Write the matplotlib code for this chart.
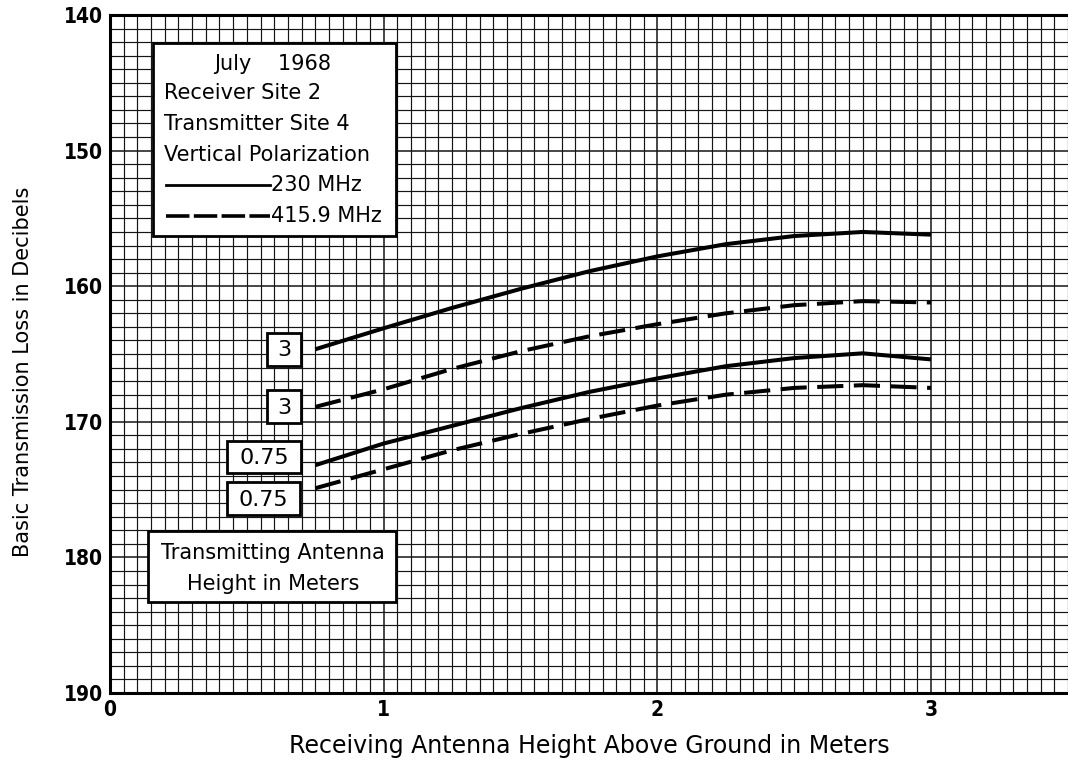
import matplotlib
matplotlib.use("Agg")
import matplotlib.pyplot as plt
from matplotlib.patches import Rectangle
import numpy as np

# ---- data ----
rx_height = [0.75, 1.0, 1.25, 1.5, 1.75, 2.0, 2.25, 2.5, 2.75, 3.0]
loss_3m_230 = [164.65, 163.1, 161.6, 160.2, 158.9, 157.8, 156.9, 156.3, 156.0, 156.2]
loss_3m_4159 = [168.9, 167.6, 166.1, 164.8, 163.7, 162.8, 162.0, 161.4, 161.1, 161.2]
loss_075m_230 = [173.2, 171.6, 170.3, 169.0, 167.8, 166.8, 165.9, 165.3, 164.95, 165.4]
loss_075m_4159 = [174.9, 173.5, 172.1, 170.9, 169.8, 168.8, 168.0, 167.5, 167.3, 167.5]

x_ticks = [0, 1, 2, 3]
x_tick_labels = ["0", "1", "2", "3"]
y_ticks = [140, 150, 160, 170, 180, 190]
y_tick_labels = ["140", "150", "160", "170", "180", "190"]

legend_lines = ["July    1968", "Receiver Site 2", "Transmitter Site 4",
                "Vertical Polarization"]
freq_labels = ["230 MHz", "415.9 MHz"]
curve_labels = ["3", "3", "0.75", "0.75"]
note_lines = ["Transmitting Antenna", "Height in Meters"]

FIG_W, FIG_H = 1068, 764
fig = plt.figure(figsize=(FIG_W / 100, FIG_H / 100), dpi=100)
L, R, T, B = 110, 1068, 15, 693
ax = fig.add_axes([L / FIG_W, (FIG_H - B) / FIG_H, (R - L) / FIG_W, (B - T) / FIG_H])

XMAX = 3.5
ax.set_xlim(0, XMAX)
ax.set_ylim(190, 140)

def px2x(px):
    return (px - L) / (R - L) * XMAX

def py2y(py):
    return 140 + (py - T) / (B - T) * 50

# grid
for xv in np.arange(0, XMAX + 1e-9, 0.05):
    major = abs(round(xv) - xv) < 1e-6
    ax.axvline(xv, color="#151515", lw=1.1 if major else 0.85, zorder=1)
for yv in range(140, 191):
    ax.axhline(yv, color="#151515", lw=1.1 if yv % 10 == 0 else 0.85, zorder=1)

# curves
LW = 2.9
DASH = (6.5, 2.6)
ax.plot(rx_height, loss_3m_230, color="black", lw=LW, zorder=5, solid_capstyle="butt")
ax.plot(rx_height, loss_3m_4159, color="black", lw=LW, dashes=DASH, zorder=5)
ax.plot(rx_height, loss_075m_230, color="black", lw=LW, zorder=5, solid_capstyle="butt")
ax.plot(rx_height, loss_075m_4159, color="black", lw=LW, dashes=DASH, zorder=5)

# spines / ticks
for s in ["left", "bottom", "top"]:
    ax.spines[s].set_linewidth(2.2)
    ax.spines[s].set_zorder(6)
ax.spines["right"].set_visible(False)
ax.set_xticks(x_ticks)
ax.set_xticklabels(x_tick_labels)
ax.set_yticks(y_ticks)
ax.set_yticklabels(y_tick_labels)
ax.tick_params(length=0, labelsize=15, pad=5)
for lab in ax.get_xticklabels() + ax.get_yticklabels():
    lab.set_fontweight("bold")
    lab.set_fontstretch("condensed")

ax.set_xlabel("Receiving Antenna Height Above Ground in Meters", fontsize=17, labelpad=10)
ax.set_ylabel("Basic Transmission Loss in Decibels", fontsize=15)
ax.yaxis.set_label_coords(-0.08, 1 - (372 - T) / (B - T))

TXT = 15

def box(px0, py0, px1, py1):
    r = Rectangle((px2x(px0), py2y(py0)), px2x(px1) - px2x(px0), py2y(py1) - py2y(py0),
                  facecolor="white", edgecolor="black", lw=2.0, zorder=7)
    ax.add_patch(r)

# legend box
box(153, 43, 396, 236)
ax.text(px2x(273), py2y(64), legend_lines[0], ha="center", va="center", fontsize=TXT, zorder=8)
for i, t in enumerate(legend_lines[1:]):
    ax.text(px2x(164), py2y(93 + 30.8 * i), t, ha="left", va="center", fontsize=TXT, zorder=8)
ax.plot([px2x(166), px2x(270)], [py2y(185), py2y(185)], color="black", lw=2.0, zorder=8)
ax.plot([px2x(166), px2x(270)], [py2y(216), py2y(216)], color="black", lw=2.6,
        dashes=(6.5, 1.2), zorder=8)
ax.text(px2x(271), py2y(185), freq_labels[0], ha="left", va="center", fontsize=TXT, zorder=8)
ax.text(px2x(271), py2y(216), freq_labels[1], ha="left", va="center", fontsize=TXT, zorder=8)

# curve label boxes
label_boxes = [(267, 333, 301, 366), (267, 390, 301, 423),
               (227, 441, 301, 473), (227, 482, 300, 515)]
for (x0, y0, x1, y1), t in zip(label_boxes, curve_labels):
    box(x0, y0, x1, y1)
    ax.text(px2x((x0 + x1) / 2), py2y((y0 + y1) / 2 + 1), t, ha="center", va="center",
            fontsize=TXT + 1, zorder=8)

# note box
box(148, 531, 396, 602)
ax.text(px2x(273), py2y(553), note_lines[0], ha="center", va="center", fontsize=TXT, zorder=8)
ax.text(px2x(273), py2y(584), note_lines[1], ha="center", va="center", fontsize=TXT, zorder=8)

fig.savefig("out.png", dpi=100)
